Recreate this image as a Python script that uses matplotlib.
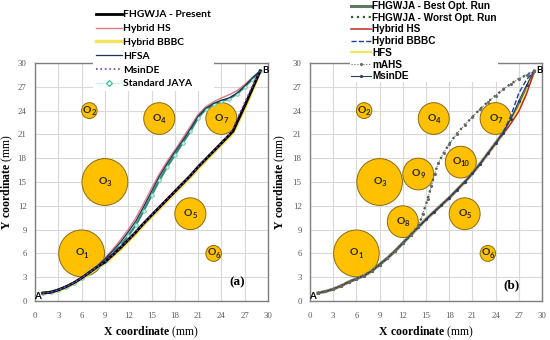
import matplotlib
matplotlib.use("Agg")
import matplotlib.pyplot as plt
from matplotlib.patches import Circle
from matplotlib.lines import Line2D

plt.rcParams['mathtext.fontset'] = 'custom'
plt.rcParams['mathtext.rm'] = 'Liberation Serif'
plt.rcParams['mathtext.bf'] = 'Liberation Serif:bold'

# ---------------- data ----------------
ticks = [0, 3, 6, 9, 12, 15, 18, 21, 24, 27, 30]

# obstacles: index, x, y, r
obs_a_ids = [1, 2, 3, 4, 5, 6, 7]
obs_a_x = [6, 7, 9, 16, 20, 23, 24]
obs_a_y = [6, 24, 15, 23, 11, 6, 23]
obs_a_r = [2.95, 1, 2.95, 2, 2, 1, 2]

obs_b_ids = [1, 2, 3, 4, 5, 6, 7, 8, 9, 10]
obs_b_x = [6, 7, 9, 16, 20, 23, 24, 12, 14, 19.5]
obs_b_y = [6, 24, 15, 23, 11, 6, 23, 10, 16, 17.5]
obs_b_r = [2.95, 1, 2.95, 2, 2, 1, 2, 2, 2, 2]

# panel (a) paths
a_x = [1, 2, 3, 4, 5, 6, 7, 8, 9, 10, 11, 12, 13, 14, 15, 16, 17, 18, 19, 20,
       21, 22, 23, 24, 25, 26, 27, 28, 29]
a_jaya_y = [1.0, 1.1, 1.4, 1.8, 2.3, 2.9, 3.6, 4.3, 5.1, 6.0, 7.0, 8.2, 9.6, 11.4,
            13.3, 15.2, 16.9, 18.4, 19.9, 21.4, 23.1, 24.2, 24.8, 25.2, 25.5,
            26.1, 27.0, 28.0, 29.0]
a_hs_y = [1.0, 1.1, 1.4, 1.8, 2.3, 2.9, 3.6, 4.4, 5.4, 6.5, 7.7, 9.0, 10.5, 12.3,
          14.2, 16.0, 17.6, 19.0, 20.5, 22.0, 23.5, 24.5, 25.1, 25.6, 26.0,
          26.5, 27.3, 28.2, 29.0]
a_hfsa_y = [1.0, 1.1, 1.4, 1.8, 2.3, 2.9, 3.6, 4.4, 5.3, 6.3, 7.4, 8.7, 10.1, 11.9,
            13.8, 15.7, 17.3, 18.8, 20.2, 21.7, 23.3, 24.3, 24.9, 25.3, 25.6,
            26.2, 27.1, 28.1, 29.0]
a_low_x = [1, 2, 3, 4, 5, 6, 7, 8, 9, 10, 11, 12, 13, 14, 15, 16, 17, 18, 19, 20,
           21, 22, 23, 24, 25, 25.5, 26, 27, 28, 29]
a_present_y = [1.0, 1.1, 1.4, 1.8, 2.3, 2.9, 3.6, 4.3, 4.9, 5.8, 6.7, 7.7, 8.7, 9.8,
               10.8, 11.8, 12.8, 13.8, 14.8, 15.8, 16.9, 17.9, 18.9, 19.9, 20.9,
               21.4, 22.5, 24.6, 26.8, 29.0]
a_bbbc_y = [1.0, 1.1, 1.3, 1.7, 2.2, 2.8, 3.5, 4.2, 4.8, 5.6, 6.5, 7.5, 8.5, 9.6,
            10.6, 11.6, 12.6, 13.6, 14.6, 15.6, 16.7, 17.7, 18.7, 19.7, 20.7,
            21.2, 22.2, 24.3, 26.6, 29.0]
a_msinde_y = [1.0, 1.1, 1.4, 1.8, 2.3, 2.9, 3.6, 4.3, 4.9, 5.8, 6.7, 7.7, 8.7, 9.8,
              10.8, 11.8, 12.8, 13.8, 14.8, 15.8, 16.9, 17.9, 18.9, 19.9, 21.0,
              21.7, 22.9, 25.0, 27.1, 29.0]

# panel (b) paths
b_x = [1, 2, 3, 4, 5, 6, 7, 8, 9, 10, 11, 12, 13, 14, 15, 16, 17, 18, 19, 20,
       21, 22, 23, 24, 25, 26, 27, 28, 29]
b_best_y = [1.0, 1.2, 1.5, 1.9, 2.4, 2.8, 3.2, 3.8, 4.6, 5.4, 6.3, 7.3, 8.3, 9.3,
            10.3, 11.2, 12.1, 13.0, 14.0, 15.0, 16.1, 17.3, 18.6, 19.9, 21.2,
            22.8, 24.6, 26.7, 29.0]
b_hs_y = [1.0, 1.2, 1.5, 1.9, 2.4, 2.8, 3.2, 3.8, 4.6, 5.4, 6.3, 7.3, 8.3, 9.3,
          10.3, 11.2, 12.1, 13.0, 14.0, 15.0, 16.1, 17.3, 18.6, 19.9, 21.1,
          22.4, 23.9, 26.1, 29.0]
b_bbbc_y = [1.0, 1.2, 1.5, 1.9, 2.4, 2.8, 3.2, 3.8, 4.6, 5.4, 6.3, 7.3, 8.3, 9.3,
            10.3, 11.2, 12.1, 13.0, 14.0, 15.0, 16.1, 17.3, 18.6, 19.9, 21.3,
            23.4, 26.2, 27.9, 29.0]
b_hfs_y = [1.0, 1.2, 1.5, 1.9, 2.4, 2.8, 3.2, 3.8, 4.6, 5.4, 6.3, 7.3, 8.3, 9.3,
           10.3, 11.2, 12.1, 13.0, 14.0, 15.0, 16.1, 17.3, 18.6, 19.9, 21.1,
           22.6, 24.3, 26.4, 29.0]
b_msinde_y = [1.0, 1.2, 1.5, 1.9, 2.4, 2.8, 3.2, 3.8, 4.6, 5.4, 6.3, 7.3, 8.3, 9.3,
              10.3, 11.2, 12.1, 13.0, 14.0, 15.0, 16.1, 17.3, 18.6, 19.9, 21.2,
              23.0, 25.2, 27.2, 29.0]
b_worst_x = [1, 2, 3, 4, 5, 6, 7, 8, 9, 10, 11, 12, 13, 14, 14.6, 15.2, 15.7, 16.1,
             16.6, 17.3, 18, 19, 20, 21, 22, 23, 24, 25, 26, 27, 28, 29]
b_worst_y = [1.0, 1.2, 1.5, 1.9, 2.4, 2.8, 3.2, 3.8, 4.6, 5.4, 6.3, 7.3, 8.3, 9.4,
             11.0, 12.8, 14.5, 16.0, 17.4, 18.7, 19.8, 21.1, 22.2, 23.2, 24.2,
             25.1, 25.9, 26.7, 27.4, 28.0, 28.5, 29.0]
b_mahs_y = [1.0, 1.2, 1.5, 1.9, 2.4, 2.8, 3.2, 3.8, 4.6, 5.4, 6.3, 7.3, 8.3, 9.4,
            11.0, 12.8, 14.5, 16.0, 17.4, 18.7, 19.8, 21.1, 22.2, 23.2, 24.2,
            25.1, 25.9, 26.7, 27.4, 28.0, 28.5, 29.0]

# ---------------- figure ----------------
fig = plt.figure(figsize=(5.5, 3.4), dpi=100)
W, H = 550.0, 340.0
axa = fig.add_axes([35 / W, 39 / H, 233 / W, 238 / H])
axb = fig.add_axes([310 / W, 39 / H, 232 / W, 238 / H])

SANS = ['Lato', 'DejaVu Sans']


def style(ax, ylab_x):
    ax.set_xlim(0, 30)
    ax.set_ylim(0, 30)
    ax.set_xticks(ticks)
    ax.set_yticks(ticks)
    ax.grid(True, color='#d9d9d9', lw=0.8)
    ax.set_axisbelow(True)
    for s in ax.spines.values():
        s.set_color('#7f7f7f')
        s.set_linewidth(1.0)
    ax.tick_params(length=0, labelsize=6.3, colors='#595959')
    ax.tick_params(axis='x', pad=8)
    ax.tick_params(axis='y', pad=6)
    for lab in ax.get_xticklabels() + ax.get_yticklabels():
        lab.set_fontfamily('Liberation Serif')
    ax.set_xlabel(r'$\mathbf{X\ coordinate}$ (mm)', fontsize=8.5,
                  family='Liberation Serif', labelpad=3)
    ax.set_ylabel(r'$\mathbf{Y\ coordinate}$ (mm)', fontsize=8.5,
                  family='Liberation Serif')
    ax.yaxis.set_label_coords(ylab_x, 0.5)


def obstacles(ax, ids, xs, ys, rs):
    for i, x, y, r in zip(ids, xs, ys, rs):
        ax.add_patch(Circle((x, y), r, facecolor='#ffc000', edgecolor='#8a6a10',
                            lw=0.7, zorder=1.5))
        d = str(i)
        shift = 1.6 * len(d)
        ax.annotate('O', (x, y), xytext=(-shift, 0.3), textcoords='offset points',
                    ha='center', va='center', fontsize=7.5, fontweight='bold',
                    family=SANS, color='#262626', zorder=6)
        ax.annotate(d, (x, y), xytext=(-shift + 3.0, -1.3),
                    textcoords='offset points', ha='left', va='center',
                    fontsize=5.5, fontweight='bold', family=SANS,
                    color='#262626', zorder=6)


style(axa, -0.086)
style(axb, -0.095)
obstacles(axa, obs_a_ids, obs_a_x, obs_a_y, obs_a_r)
obstacles(axb, obs_b_ids, obs_b_x, obs_b_y, obs_b_r)

# panel (a) lines
la1, = axa.plot(a_low_x, a_bbbc_y, color='#f2e45c', lw=2.4, zorder=3,
                label='Hybrid BBBC')
la0, = axa.plot(a_low_x, a_present_y, color='black', lw=2.0, zorder=3.2,
                label='FHGWJA - Present')
la2, = axa.plot(a_low_x, a_msinde_y, color='#7a3fae', lw=1.2, ls=':',
                zorder=3.4, label='MsinDE')
la3, = axa.plot(a_x, a_hs_y, color='#e27a86', lw=1.0, zorder=3,
                label='Hybrid HS')
la4, = axa.plot(a_x, a_jaya_y, color='#2f8f6f', lw=1.6, zorder=3.1,
                marker='o', ms=2.6, mfc='#bff0e4', mec='#5cc8ac', mew=0.6,
                label='Standard JAYA')
la5, = axa.plot(a_x, a_hfsa_y, color='#1f2f5a', lw=0.9, zorder=3.3,
                label='HFSA')

# panel (b) lines
lb0, = axb.plot(b_x, b_best_y, color='#607a5e', lw=2.2, zorder=3,
                label='FHGWJA - Best Opt. Run')
lb4, = axb.plot(b_x, b_hfs_y, color='#f0ea50', lw=1.5, zorder=3.1, label='HFS')
lb2, = axb.plot(b_x, b_hs_y, color='#c0282a', lw=1.1, zorder=3.2,
                label='Hybrid HS')
lb3, = axb.plot(b_x, b_bbbc_y, color='#1f3f9f', lw=1.0, ls='--', zorder=3.3,
                label='Hybrid BBBC')
lb6, = axb.plot(b_x, b_msinde_y, color='#2f3d5c', lw=0.8, zorder=3.4,
                marker='.', ms=2.5, label='MsinDE')
lb1, = axb.plot(b_worst_x, b_worst_y, color='#3a5e3a', lw=1.6, ls=':',
                zorder=3.5, label='FHGWJA - Worst Opt. Run')
lb5, = axb.plot(b_worst_x, b_mahs_y, color='#6a6a6a', lw=0.8, ls=':',
                marker='.', ms=2.5, zorder=3.6, label='mAHS')

# legends
leg_a_handles = [la0, la3, la1, la5, la2,
                 Line2D([], [], color='#c8eee4', lw=0.6, marker='D', ms=3,
                        mfc='white', mec='#3cb896', mew=0.9)]
leg_a_labels = ['FHGWJA - Present', 'Hybrid HS', 'Hybrid BBBC', 'HFSA',
                'MsinDE', 'Standard JAYA']
lga = axa.legend(leg_a_handles, leg_a_labels, loc='upper left',
                 bbox_to_anchor=(93 / W, 1 - 7 / H),
                 bbox_transform=fig.transFigure, frameon=True, framealpha=1,
                 edgecolor='none', facecolor='white', fancybox=False,
                 borderpad=0.3, handlelength=2.5, handletextpad=0.15,
                 labelspacing=0.45, borderaxespad=0,
                 prop={'family': SANS, 'weight': 'bold', 'size': 7.4})
lga.set_zorder(10)

leg_b_handles = [lb0, lb1, lb2, lb3, lb4, lb5, lb6]
leg_b_labels = [h.get_label() for h in leg_b_handles]
lgb = axb.legend(leg_b_handles, leg_b_labels, loc='upper left',
                 bbox_to_anchor=(350 / W, 1.0),
                 bbox_transform=fig.transFigure, frameon=True, framealpha=1,
                 edgecolor='none', facecolor='white', fancybox=False,
                 borderpad=0.1, handlelength=2.0, handletextpad=0.15,
                 labelspacing=0.17, borderaxespad=0,
                 prop={'family': 'Liberation Sans', 'weight': 'bold',
                       'size': 7.2})
lgb.set_zorder(10)

# annotations
for ax, tag, ty in ((axa, '(a)', 2.3), (axb, '(b)', 2.0)):
    ax.text(26.0, ty, tag, ha='center', va='center', fontsize=9.5,
            fontweight='bold', family='Liberation Serif', zorder=6)
    ax.text(0.3, 0.55, 'A', ha='center', va='center', fontsize=7,
            fontweight='bold', family=SANS, zorder=6)
    ax.text(29.7, 29.0, 'B', ha='center', va='center', fontsize=7,
            fontweight='bold', family=SANS, zorder=6, clip_on=False)

fig.savefig('out.png', dpi=100)
